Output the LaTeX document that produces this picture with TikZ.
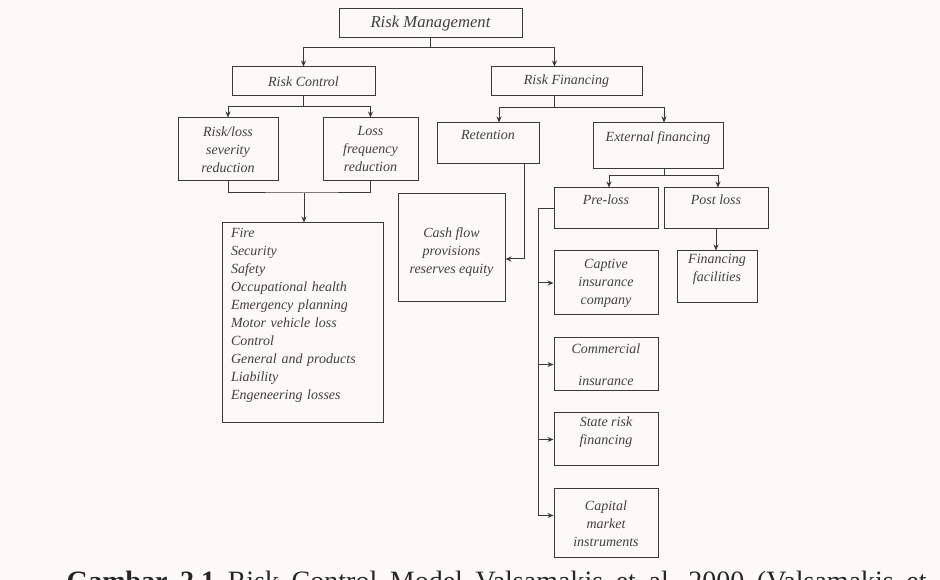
\documentclass[tikz,border=0pt]{standalone}
\usepackage{fontspec}
\setmainfont{Liberation Serif}
\usetikzlibrary{arrows.meta}
\definecolor{bgpaper}{HTML}{FCFAF8}
\definecolor{boxline}{HTML}{3A3A3A}
\definecolor{boxtext}{HTML}{404040}
\tikzset{every picture/.style={line width=0.75pt}}
\tikzset{
  rmbox/.style={draw=boxline, text=boxtext, align=center, inner sep=0pt,
    font=\itshape\fontsize{10.5}{13.5}\selectfont},
  link/.style={draw=boxline},
  arr/.style={draw=boxline, -{Stealth[length=4.5pt,width=3.75pt]}}
}

\begin{document}
\begin{tikzpicture}[x=0.75pt,y=0.75pt,yscale=-1,xscale=1]
        %paper
        \fill[bgpaper] (0,0) rectangle (940,580);
        \useasboundingbox (0,0) rectangle (940,580);

        %Top
        \node[rmbox, minimum width=137.25pt, minimum height=21.75pt, font=\itshape\fontsize{12.5}{14}\selectfont] (rm) at (430.5,23.5) {Risk Management};
        \node[rmbox, minimum width=107.25pt, minimum height=21.75pt] (rc) at (303.5,81.5) {Risk Control};
        \node[rmbox, minimum width=113.25pt, minimum height=21.75pt] (rf) at (566.5,81.5) {Risk Financing};

        %Risk control side
        \node[rmbox, minimum width=75pt, minimum height=47.25pt] (sev) at (228,149.5) {Risk/loss\\severity\\reduction};
        \node[rmbox, minimum width=71.25pt, minimum height=47.25pt] (freq) at (370.5,149.5) {Loss\\frequency\\reduction};
        \node[rmbox, align=left, text width=107.25pt, inner xsep=6.75pt, minimum height=150pt] (list) at (302.5,323)
          {Fire\\Security\\Safety\\Occupational health\\Emergency planning\\Motor vehicle loss\\Control\\General and products\\Liability\\Engeneering losses\\~};

        %Risk financing side
        \node[rmbox, minimum width=76.5pt, minimum height=30.75pt] (ret) at (488,143.5) {Retention\\~};
        \node[rmbox, minimum width=97.5pt, minimum height=34.5pt] (ext) at (658,146) {External financing\\~};
        \node[rmbox, minimum width=80.25pt, minimum height=81pt] (cash) at (451.5,248) {~\\Cash flow\\provisions\\reserves equity};
        \node[rmbox, minimum width=78pt, minimum height=30.75pt] (pre) at (606,208.5) {Pre-loss\\~};
        \node[rmbox, minimum width=78pt, minimum height=30.75pt] (post) at (716,208.5) {Post loss\\~};
        \node[rmbox, minimum width=60pt, minimum height=39pt] (finfac) at (717,277) {Financing\\facilities\\~};
        \node[rmbox, minimum width=78pt, minimum height=48pt] (captive) at (606,283) {Captive\\insurance\\company};
        \node[rmbox, minimum width=78pt, minimum height=39.75pt] (commerc) at (606,364.5) {Commercial\\[10.5pt]insurance};
        \node[rmbox, minimum width=78pt, minimum height=39.75pt] (staterisk) at (606,439.5) {State risk\\financing\\~};
        \node[rmbox, minimum width=78pt, minimum height=51.75pt] (capmkt) at (606,523.5) {Capital\\market\\instruments};

        %Connectors
        \draw[link] (rm.south) -- ++(0,9) coordinate (rmj);
        \draw[arr] (rmj) -| (rc.north);
        \draw[arr] (rmj) -| ([xshift=-9pt]rf.north);

        \draw[link] (rc.south) -- ++(0,10) coordinate (rcj);
        \draw[arr] (rcj) -| (sev.north);
        \draw[arr] (rcj) -| (freq.north);

        \coordinate (sfj) at (304,193);
        \draw[link] (sev.south) |- (sfj) -| (freq.south);
        \draw[arr] (sfj) -- (sfj |- list.north);

        \draw[link] ([xshift=-9pt]rf.south) -- ++(0,11) coordinate (rfj);
        \draw[arr] (rfj) -| ([xshift=8.25pt]ret.north);
        \draw[arr] (rfj) -| ([xshift=4.5pt]ext.north);

        \draw[arr] ([xshift=27pt]ret.south) |- ([yshift=8.25pt]cash.east);

        \draw[link] ([xshift=4.5pt]ext.south) -- ++(0,6) coordinate (extj);
        \draw[arr] (extj) -| ([xshift=2.25pt]pre.north);
        \draw[arr] (extj) -| ([xshift=1.5pt]post.north);

        \draw[link] (pre.west) -- ++(-15,0) coordinate (prej);
        \draw[arr] (prej) |- (captive.west);
        \draw[arr] (prej) |- (commerc.west);
        \draw[arr] (prej) |- (staterisk.west);
        \draw[arr] (prej) |- ([yshift=-6pt]capmkt.west);

        \draw[arr] (post.south) -- (post.south |- finfac.north);

        %Caption (cut off at the bottom edge)
        \begin{scope}
          \clip (0,0) rectangle (940,580);
          \node[anchor=base west, inner sep=0pt, text=black!85, font=\fontsize{21}{24}\selectfont] (caption) at (66,591)
            {\spaceskip=0.45em\relax\textbf{Gambar 2.1} Risk Control Model Valsamakis et al, 2000 (Valsamakis et al, 2000)};
        \end{scope}

\end{tikzpicture}
\end{document}
